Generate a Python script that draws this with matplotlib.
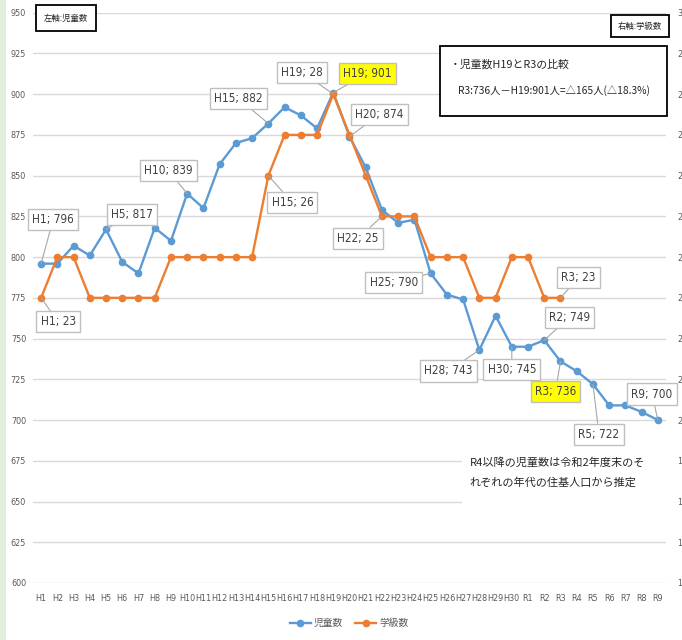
import matplotlib
matplotlib.use('Agg')
import numpy as np
import matplotlib.pyplot as plt
from matplotlib import font_manager
from matplotlib.patches import Rectangle

# ---------------- data ----------------
categories = ['H1', 'H2', 'H3', 'H4', 'H5', 'H6', 'H7', 'H8', 'H9', 'H10',
              'H11', 'H12', 'H13', 'H14', 'H15', 'H16', 'H17', 'H18', 'H19', 'H20',
              'H21', 'H22', 'H23', 'H24', 'H25', 'H26', 'H27', 'H28', 'H29', 'H30',
              'R1', 'R2', 'R3', 'R4', 'R5', 'R6', 'R7', 'R8', 'R9']
students = [796, 796, 807, 801, 817, 797, 790, 818, 810, 839,
            830, 857, 870, 873, 882, 892, 887, 879, 901, 874,
            855, 829, 821, 823, 790, 777, 774, 743, 764, 745,
            745, 749, 736, 730, 722, 709, 709, 705, 700]
classes = [23, 24, 24, 23, 23, 23, 23, 23, 24, 24,
           24, 24, 24, 24, 26, 27, 27, 27, 28, 27,
           26, 25, 25, 25, 24, 24, 24, 23, 23, 24,
           24, 23, 23]
left_ticks = list(range(600, 951, 25))
right_ticks = list(range(16, 31))
series_names = ['児童数', '学級数']

# labelled points: (category, offset px, highlighted)
student_labels = [('H1', (12, 44), False), ('H5', (26, 15), False), ('H10', (-19, 23), False),
                  ('H15', (-30, 25), False), ('H19', (34, 19), True), ('H20', (30, 22), False),
                  ('H25', (-37, -9), False), ('H28', (-31, -21), False), ('H30', (0, -23), False),
                  ('R2', (25, 23), False), ('R3', (-5, -30), True), ('R5', (6, -50), False),
                  ('R9', (-6, 26), False)]
class_labels = [('H1', (17, -24), False), ('H15', (24, -27), False), ('H19', (-31, 22), False),
                ('H22', (-24, -22), False), ('R3', (18, 20), False)]

# ---------------- fonts ----------------
avail = {f.name for f in font_manager.fontManager.ttflist}
if 'Liberation Sans Narrow' in avail:
    NARROW = dict(family=['Liberation Sans Narrow', 'Noto Sans CJK JP'])
else:
    NARROW = dict(family=['DejaVu Sans', 'Noto Sans CJK JP'], stretch='condensed')
CJK = ['Noto Sans CJK JP', 'DejaVu Sans']
plt.rcParams['font.family'] = CJK

BLUE = '#5B9BD5'
ORANGE = '#ED7D31'
GRID = '#D9D9D9'
TXT = '#595959'

W, H = 682, 640
fig = plt.figure(figsize=(W / 100, H / 100), dpi=100)
fig.patch.set_facecolor('white')
fig.patches.append(Rectangle((0, 0), 6 / W, 1, transform=fig.transFigure,
                             facecolor='#E2EFDA', edgecolor='none', zorder=0))

ax1 = fig.add_axes([33 / W, 1 - 583 / H, (666 - 33) / W, (583 - 12.7) / H])
ax2 = ax1.twinx()

x = np.arange(len(categories))
cls = np.array(classes + [np.nan] * (len(categories) - len(classes)), dtype=float)

l1, = ax1.plot(x, students, color=BLUE, lw=1.7, marker='o', ms=4.5, zorder=3)
l2, = ax2.plot(x, cls, color=ORANGE, lw=1.7, marker='o', ms=4.5, zorder=3)

ax1.set_xlim(-0.5, len(categories) - 0.5)
ax1.set_ylim(600, 950)
ax2.set_ylim(16, 30)
ax1.set_yticks(left_ticks)
ax2.set_yticks(right_ticks)
ax1.set_xticks(x)
ax1.set_xticklabels(categories)
ax1.grid(axis='y', color=GRID, lw=1.0)
ax1.set_axisbelow(True)
for a in (ax1, ax2):
    for s in a.spines.values():
        s.set_visible(False)
ax1.tick_params(axis='both', length=0, colors=TXT)
ax1.tick_params(axis='y', pad=5)
ax1.tick_params(axis='x', pad=8)
ax2.tick_params(axis='y', length=0, colors=TXT, pad=8)
for lab in ax1.get_xticklabels() + ax1.get_yticklabels() + ax2.get_yticklabels():
    lab.set_fontfamily(NARROW['family'])
    if 'stretch' in NARROW:
        lab.set_fontstretch(NARROW['stretch'])
    lab.set_fontsize(6.5)

# ---------------- note area (white background covering gridlines) ----------------
ax2.add_patch(Rectangle((0.678, 0.119), 0.322, 0.132, transform=ax2.transAxes,
                        facecolor='white', edgecolor='none', zorder=1))
ax2.text(0.69, 0.193, 'R4以降の児童数は令和2年度末のそ\nれぞれの年代の住基人口から推定',
         transform=ax2.transAxes, ha='left', va='center', fontsize=8, color='#262626',
         linespacing=2.1, zorder=2)

# ---------------- data labels ----------------
def add_label(vals, cat, off, hi, trans):
    i = categories.index(cat)
    v = vals[i]
    txt = f"{cat}; {int(v)}"
    ax2.annotate(txt, xy=(i, v), xycoords=trans, xytext=off, textcoords='offset pixels',
                 ha='center', va='center', fontsize=8.5, color='#404040', zorder=10,
                 bbox=dict(boxstyle='square,pad=0.35', fc='#FFFF00' if hi else 'white',
                           ec='#BFBFBF', lw=1.0),
                 arrowprops=dict(arrowstyle='-', color='#A6A6A6', lw=0.8,
                                 shrinkA=0, shrinkB=0),
                 **NARROW)

for cat, off, hi in student_labels:
    add_label(students, cat, off, hi, ax1.transData)
for cat, off, hi in class_labels:
    add_label(classes, cat, off, hi, ax2.transData)

# ---------------- text boxes ----------------
fig.text(66 / W, 1 - 18 / H, '左軸:児童数', ha='center', va='center', fontsize=6,
         color='#262626', bbox=dict(boxstyle='square,pad=1.0', fc='white', ec='black', lw=1.3))
fig.text(640 / W, 1 - 26 / H, '右軸:学級数', ha='center', va='center', fontsize=6,
         color='#262626', bbox=dict(boxstyle='square,pad=0.8', fc='white', ec='black', lw=1.3),
         zorder=10)
fig.patches.append(Rectangle((440 / W, 1 - 116 / H), (667 - 440) / W, 70 / H,
                             transform=fig.transFigure, facecolor='white',
                             edgecolor='black', lw=1.3, zorder=5))
fig.text(450 / W, 1 - 65 / H, '・児童数H19とR3の比較', ha='left', va='center',
         fontsize=7.8, color='#262626', zorder=6)
fig.text(458 / W, 1 - 91 / H, 'R3:736人－H19:901人=△165人(△18.3%)', ha='left',
         va='center', fontsize=7.4, color='#262626', zorder=6)

fig.legend([l1, l2], series_names, loc='center', bbox_to_anchor=(349 / W, 1 - 623 / H),
           ncol=2, frameon=False, fontsize=7, labelcolor=TXT, handlelength=2.2,
           columnspacing=1.2, handletextpad=0.3)

fig.savefig('out.png', dpi=100)
